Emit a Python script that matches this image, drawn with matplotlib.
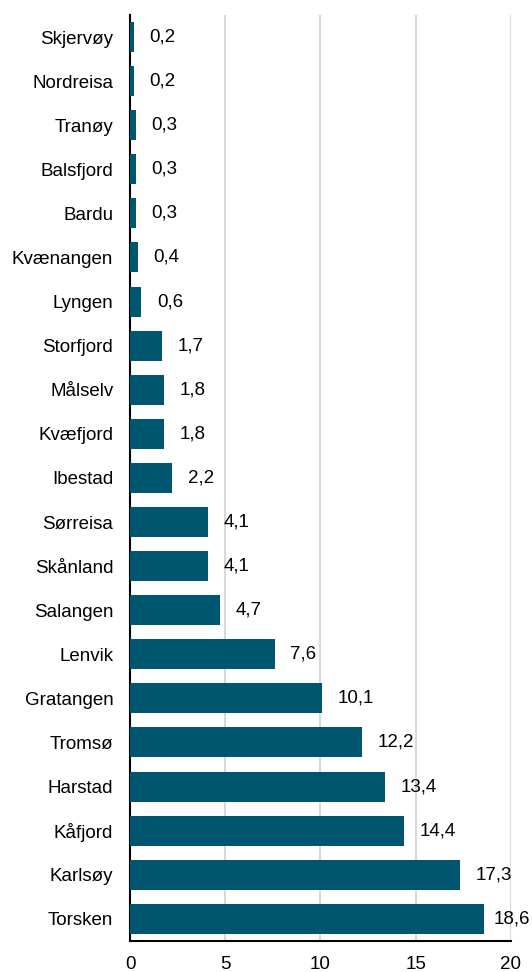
import numpy as np
import matplotlib.pyplot as plt

plt.rcParams['font.family'] = ['Liberation Sans', 'DejaVu Sans']

kommuner = ['Skjervøy', 'Nordreisa', 'Tranøy', 'Balsfjord', 'Bardu', 'Kvænangen',
            'Lyngen', 'Storfjord', 'Målselv', 'Kvæfjord', 'Ibestad', 'Sørreisa',
            'Skånland', 'Salangen', 'Lenvik', 'Gratangen', 'Tromsø', 'Harstad',
            'Kåfjord', 'Karlsøy', 'Torsken']
verdier = [0.2, 0.2, 0.3, 0.3, 0.3, 0.4, 0.6, 1.7, 1.8, 1.8, 2.2, 4.1, 4.1,
           4.7, 7.6, 10.1, 12.2, 13.4, 14.4, 17.3, 18.6]

fig = plt.figure(figsize=(5.32, 9.72), dpi=100)
ax = fig.add_axes([0.2444, 0.032, 0.716, 0.9526])

y = np.arange(len(kommuner))
ax.barh(y, verdier, height=0.68, color='#00566E', zorder=3)
for yi, v in zip(y, verdier):
    # labels near the right edge are pulled in so they stay inside the figure
    ax.text(min(v + 0.82, 19.1), yi, f'{v:.1f}'.replace('.', ','), va='center',
            ha='left', fontsize=13.5, color='black', clip_on=False)

ax.set_yticks(y)
ax.set_yticklabels(kommuner, fontsize=13.5)
ax.set_ylim(len(kommuner) - 0.5, -0.5)
ax.set_xlim(0, 20)
ax.set_xticks([0, 5, 10, 15, 20])
ax.set_xticklabels(['0', '5', '10', '15', '20'], fontsize=13.5)
ax.tick_params(length=0)
ax.tick_params(axis='x', pad=11)
ax.tick_params(axis='y', pad=12)
ax.xaxis.grid(True, color='#d9d9d9', linewidth=1.5, zorder=0)
for s in ['top', 'right']:
    ax.spines[s].set_visible(False)
ax.spines['left'].set_linewidth(1.5)
ax.spines['bottom'].set_linewidth(1.5)

fig.savefig('out.png', dpi=100)
